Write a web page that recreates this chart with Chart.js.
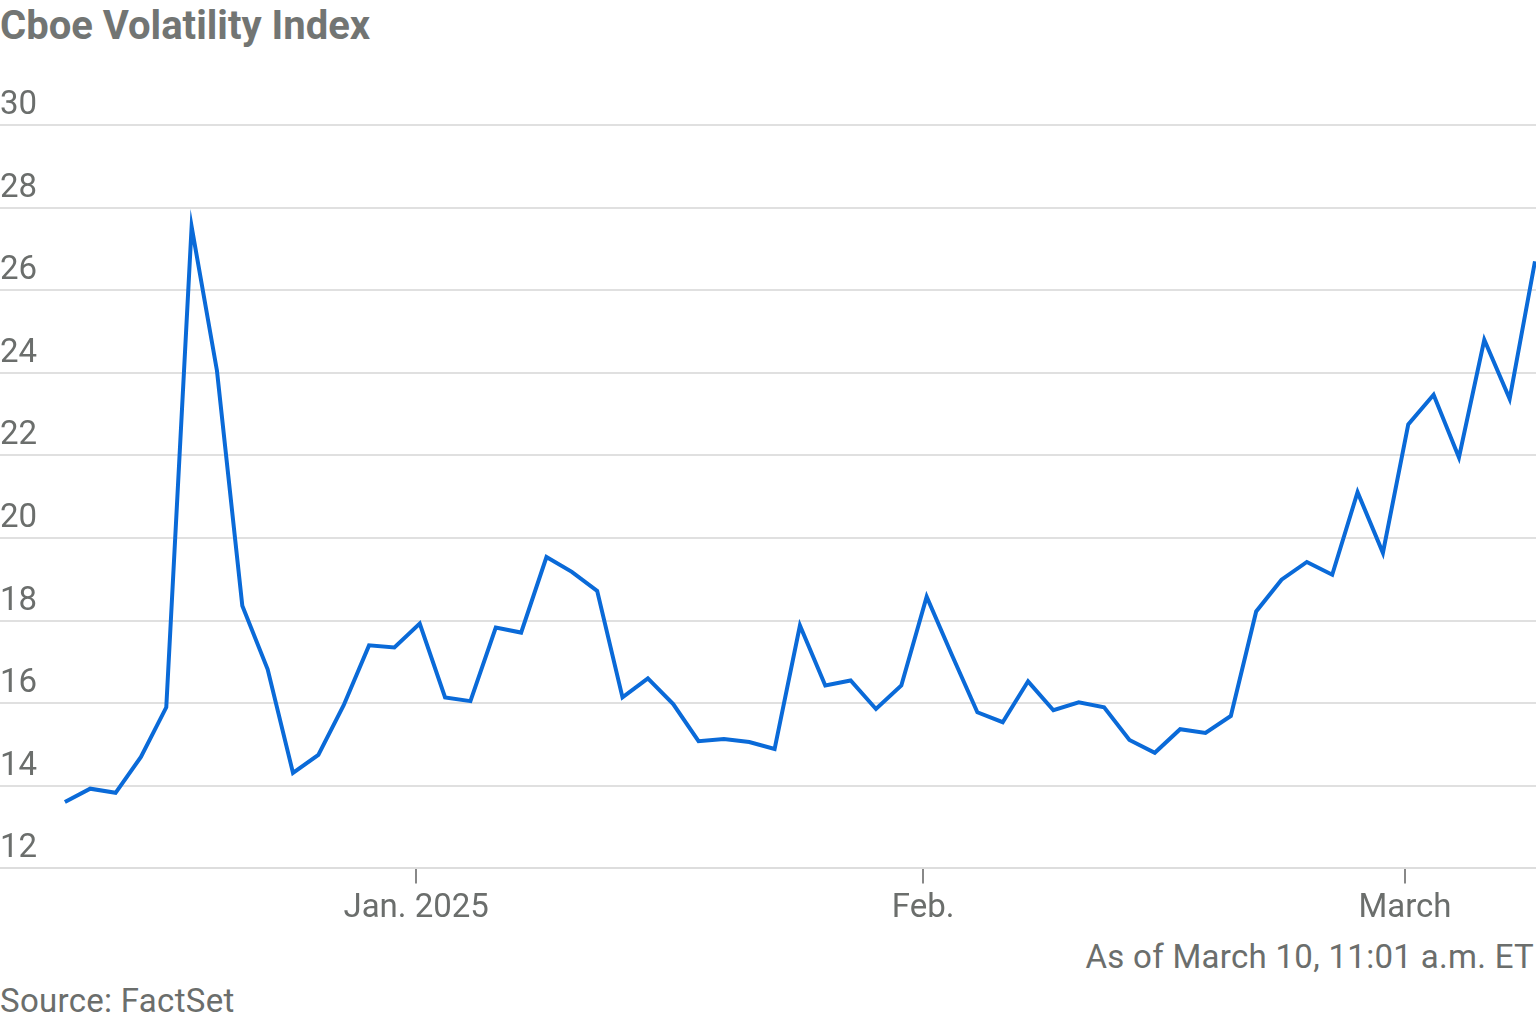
<!DOCTYPE html><html><head><script src="https://cdn.jsdelivr.net/npm/chart.js@4"></script>
<style>body{margin:0;background:#fff;font-family:Roboto,"Noto Sans",sans-serif}
#w{position:relative;width:1536px;height:1020px}
.t{position:absolute;color:#6b6e6c;letter-spacing:0.3px}
</style></head><body><div id="w">
<div class="t" style="left:0;top:2px;font-size:40px;font-weight:700;color:#727573;letter-spacing:0">Cboe Volatility Index</div>
<div class="t" style="right:2px;top:937px;font-size:33px">As of March 10, 11:01 a.m. ET</div>
<div class="t" style="left:0;top:981px;font-size:33px">Source: FactSet</div>
<canvas id="c" width="1536" height="1020" style="position:absolute;left:0;top:0"></canvas></div>
<script>
const values=[13.61,13.93,13.83,14.70,15.90,27.54,24.05,18.36,16.82,14.31,14.75,15.95,17.40,17.35,17.93,16.14,16.05,17.83,17.71,19.54,19.18,18.72,16.14,16.60,15.98,15.08,15.13,15.06,14.89,17.88,16.43,16.55,15.86,16.43,18.58,17.16,15.78,15.54,16.53,15.83,16.02,15.90,15.11,14.80,15.37,15.28,15.69,18.22,18.99,19.42,19.11,21.11,19.64,22.75,23.47,21.95,24.80,23.37,26.70];
const yTicks=[12,14,16,18,20,22,24,26,28,30];
const xTickLabels=["Jan. 2025","Feb.","March"];
const xTickPos=[13.86,33.86,52.87];
const pts=values.map((v,i)=>({x:i,y:v}));
const yLab={id:'yl',afterDraw(c){const g=c.ctx,s=c.scales.y;g.save();g.font='33px Roboto';g.fillStyle='#6b6e6c';g.textBaseline='alphabetic';
yTicks.forEach(t=>g.fillText(String(t),0,s.getPixelForValue(t)-11));g.restore();}};
new Chart(document.getElementById('c'),{type:'line',data:{datasets:[{data:pts,borderColor:'#0a6ad8',borderWidth:4,pointRadius:0,tension:0}]},
options:{responsive:false,animation:false,layout:{padding:{top:125,bottom:85,left:0,right:0}},
plugins:{legend:{display:false},tooltip:{enabled:false}},
scales:{x:{type:'linear',min:-2.56,max:58.04,afterBuildTicks:a=>{a.ticks=xTickPos.map(v=>({value:v}));},
ticks:{callback:(v,i)=>xTickLabels[i],font:{size:33,family:'Roboto'},color:'#6b6e6c',maxRotation:0,padding:6,autoSkip:false},
grid:{drawOnChartArea:false,drawTicks:true,tickLength:15,color:'#888',lineWidth:2},border:{display:true,color:'#ddd',width:2}},
y:{min:12,max:30,afterBuildTicks:a=>{a.ticks=yTicks.map(v=>({value:v}));},afterFit:a=>{a.width=0;},ticks:{display:false},
grid:{color:'#e0e0e0',lineWidth:2,drawTicks:false},border:{display:false}}}},
plugins:[yLab]});
</script></body></html>
